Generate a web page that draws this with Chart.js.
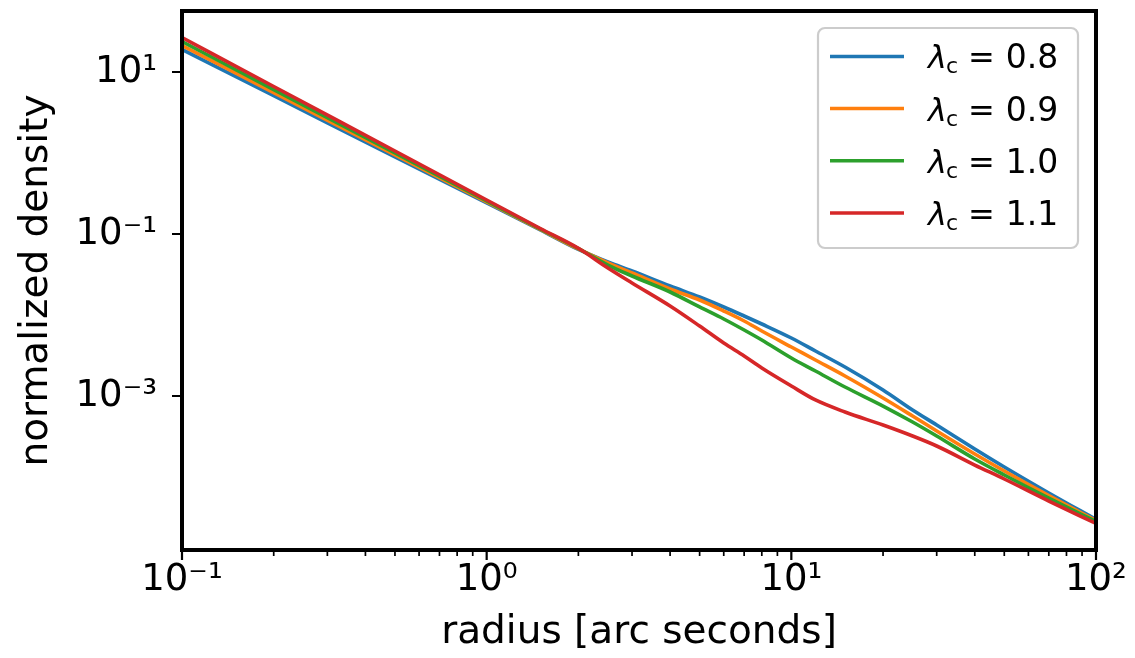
<!DOCTYPE html>
<html lang="en">
<head>
<meta charset="UTF-8">
<title>normalized density</title>
<script src="https://cdn.jsdelivr.net/npm/chart.js@4.4.0/dist/chart.umd.min.js"></script>
<style>
    html, body { margin: 0; padding: 0; background: #fff; }
    canvas { display: block; }
</style>
</head>
<body>
<canvas id="chart" width="1135" height="658"></canvas>
<script>
    // radius in arc seconds
    const radius = [0.1, 0.2, 0.5, 1, 1.5, 2, 2.5, 3, 4, 5, 6, 7, 8, 10, 12, 15, 20, 25, 30, 40, 50, 70, 100];

    const density08 = [18.96, 5.10, 0.895, 0.2414, 0.1120, 0.0644, 0.0451, 0.0349, 0.02280, 0.01668, 0.01256, 0.00972, 0.00774,
        0.00520, 0.00359, 0.002280, 0.001186, 0.000672, 0.0004385, 0.0002216, 0.0001329, 0.0000635, 0.0000299];
    const density09 = [21.24, 5.55, 0.950, 0.2484, 0.1137, 0.0653, 0.04385, 0.0330, 0.02094, 0.01532, 0.01120, 0.00843, 0.006345,
        0.00403, 0.00278, 0.001766, 0.000945, 0.0005665, 0.000370, 0.0001923, 0.0001186, 0.0000591, 0.0000290];
    const density10 = [23.80, 6.06, 1.003, 0.2555, 0.1153, 0.0662, 0.0414, 0.0303, 0.01923, 0.01256, 0.00893, 0.00653, 0.00491,
        0.002946, 0.002035, 0.001291, 0.000752, 0.0004775, 0.0003208, 0.0001668, 0.0001059, 0.0000550, 0.0000282];
    const density11 = [26.67, 6.62, 1.059, 0.2630, 0.1169, 0.0666, 0.0380, 0.02484, 0.01291, 0.00731, 0.00451, 0.003118, 0.002216,
        0.001329, 0.000893, 0.0006345, 0.0004385, 0.0003208, 0.0002414, 0.0001406, 0.0000945, 0.0000505, 0.0000267];

    const lambdaValues = ['0.8', '0.9', '1.0', '1.1'];
    const colors = ['#1f77b4', '#ff7f0e', '#2ca02c', '#d62728'];

    const xTickValues = [0.1, 1, 10, 100];
    const xTickLabels = ['10⁻¹', '10⁰', '10¹', '10²'];
    const yTickValues = [1e-3, 1e-1, 10];
    const yTickLabels = ['10⁻³', '10⁻¹', '10¹'];

    const FONT = '"DejaVu Sans"';
    Chart.defaults.font.family = FONT;
    Chart.defaults.color = '#000';

    // frame + tick marks, drawn over the lines like matplotlib spines
    const frame = {
        id: 'frame',
        afterDatasetsDraw(chart) {
            const { ctx, chartArea: a, scales: { x, y } } = chart;
            ctx.save();
            ctx.strokeStyle = '#000';
            ctx.lineWidth = 2.2;
            ctx.beginPath();
            xTickValues.forEach(v => {
                const px = x.getPixelForValue(v);
                ctx.moveTo(px, a.bottom);
                ctx.lineTo(px, a.bottom + 10);
            });
            yTickValues.forEach(v => {
                const py = y.getPixelForValue(v);
                ctx.moveTo(a.left, py);
                ctx.lineTo(a.left - 10, py);
            });
            ctx.stroke();

            ctx.lineWidth = 1.7;
            ctx.beginPath();
            [0.1, 1, 10].forEach(d => {
                for (let k = 2; k <= 9; k++) {
                    const px = x.getPixelForValue(k * d);
                    ctx.moveTo(px, a.bottom);
                    ctx.lineTo(px, a.bottom + 6);
                }
            });
            ctx.stroke();

            ctx.lineWidth = 4;
            ctx.strokeRect(a.left, a.top, a.right - a.left, a.bottom - a.top);
            ctx.restore();
        }
    };

    const legendBox = {
        id: 'legendBox',
        afterDraw(chart) {
            const { ctx, chartArea: a } = chart;
            const w = 260, h = 220;
            const bx = a.right - 18 - w, by = a.top + 17;
            ctx.save();
            ctx.beginPath();
            ctx.roundRect(bx, by, w, h, 7);
            ctx.fillStyle = 'rgba(255,255,255,0.8)';
            ctx.fill();
            ctx.strokeStyle = '#cccccc';
            ctx.lineWidth = 2.2;
            ctx.stroke();

            chart.data.datasets.forEach((ds, i) => {
                const ly = by + 28.4 + i * 52.2;
                ctx.strokeStyle = ds.borderColor;
                ctx.lineWidth = 3.5;
                ctx.beginPath();
                ctx.moveTo(bx + 12, ly);
                ctx.lineTo(bx + 86, ly);
                ctx.stroke();

                const base = ly + 12;
                let tx = bx + 110;
                ctx.fillStyle = '#000';
                ctx.textBaseline = 'alphabetic';
                ctx.textAlign = 'left';
                ctx.font = 'italic 32px ' + FONT;
                ctx.fillText('λ', tx, base);
                tx += ctx.measureText('λ').width - 1;
                ctx.font = '22px ' + FONT;
                ctx.fillText('c', tx, base + 5);
                tx += ctx.measureText('c').width + 10;
                ctx.font = '32px ' + FONT;
                ctx.fillText('=', tx, base);
                tx += ctx.measureText('=').width + 11;
                ctx.font = '33px ' + FONT;
                ctx.fillText(lambdaValues[i], tx, base);
            });
            ctx.restore();
        }
    };

    const series = [density08, density09, density10, density11];

    const ctx = document.getElementById('chart').getContext('2d');
    const chart = new Chart(ctx, {
        type: 'line',
        data: {
            datasets: series.map((s, i) => ({
                label: 'λc = ' + lambdaValues[i],
                data: radius.map((r, j) => ({ x: r, y: s[j] })),
                borderColor: colors[i],
                backgroundColor: colors[i],
                borderWidth: 3.6,
                pointRadius: 0,
                cubicInterpolationMode: 'monotone',
                fill: false,
                order: series.length - 1 - i
            }))
        },
        options: {
            responsive: false,
            devicePixelRatio: 1,
            animation: false,
            layout: { padding: { top: 11, right: 39, left: 0, bottom: 0 } },
            plugins: {
                legend: { display: false },
                tooltip: { enabled: false }
            },
            scales: {
                x: {
                    type: 'logarithmic',
                    min: 0.1,
                    max: 100,
                    afterFit: s => { s.height = 108; s.paddingLeft = 0; s.paddingRight = 0; },
                    afterBuildTicks: s => { s.ticks = xTickValues.map(v => ({ value: v })); },
                    grid: { display: false, drawTicks: false },
                    border: { display: false },
                    ticks: {
                        autoSkip: false,
                        maxRotation: 0,
                        padding: 8,
                        font: { size: 37 },
                        callback: (v, i) => xTickLabels[i]
                    },
                    title: {
                        display: true,
                        text: 'radius [arc seconds]',
                        font: { size: 39, lineHeight: 1.2 },
                        padding: { top: 0, bottom: 2 }
                    }
                },
                y: {
                    type: 'logarithmic',
                    min: 1.256e-5,
                    max: 56.6,
                    afterFit: s => { s.width = 182; s.paddingTop = 0; s.paddingBottom = 0; },
                    afterBuildTicks: s => { s.ticks = yTickValues.map(v => ({ value: v })); },
                    grid: { display: false, drawTicks: false },
                    border: { display: false },
                    ticks: {
                        autoSkip: false,
                        padding: 25,
                        font: { size: 37 },
                        callback: (v, i) => yTickLabels[i]
                    },
                    title: {
                        display: true,
                        text: 'normalized density',
                        font: { size: 39, lineHeight: 1.2 },
                        padding: { top: 13, bottom: 0 }
                    }
                }
            }
        },
        plugins: [frame, legendBox]
    });
</script>
</body>
</html>
